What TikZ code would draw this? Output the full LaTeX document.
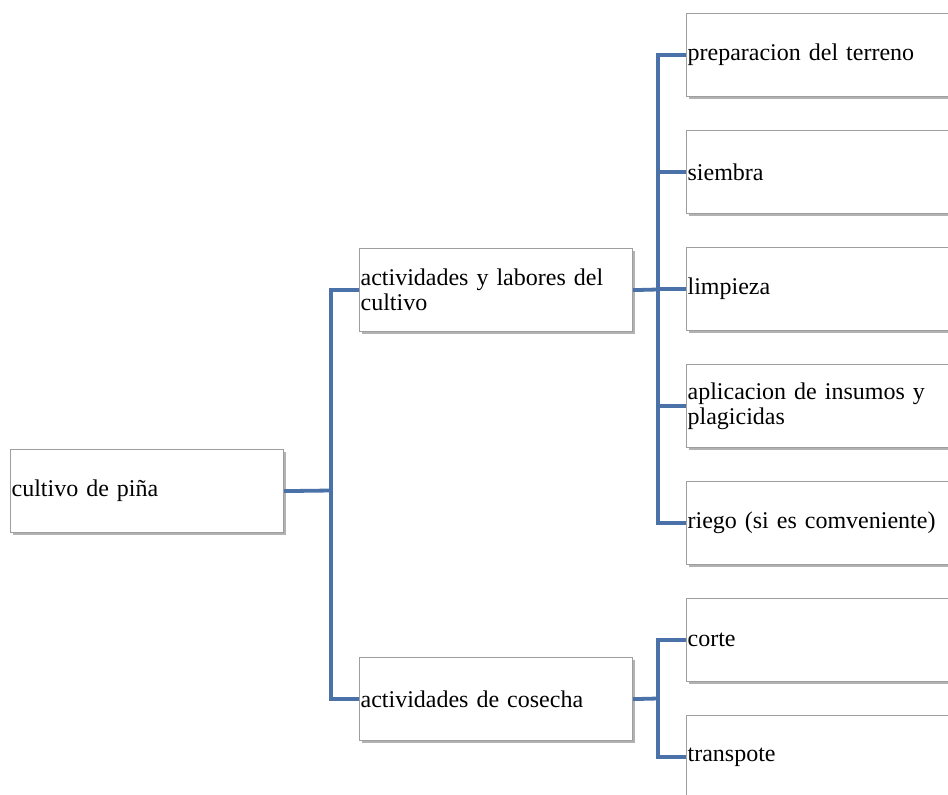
\documentclass[tikz,border=0pt]{standalone}
\usepackage{fontspec}
\setmainfont{Liberation Serif}
\usetikzlibrary{shadows}
\definecolor{linkblue}{HTML}{4A72A9}
\definecolor{boxgray}{HTML}{9E9E9E}
\tikzset{
  box/.style={draw=boxgray, line width=1.2pt, fill=white,
    drop shadow={shadow xshift=2pt, shadow yshift=-2.5pt, opacity=0.3, fill=black},
    anchor=north west, minimum height=83pt, inner xsep=1pt, inner ysep=0pt,
    align=left, font=\fontsize{24}{25}\selectfont},
  midbox/.style={box, text width=271pt},
  leafbox/.style={box, text width=288pt},
  conn/.style={draw=linkblue, line width=3.8pt, line join=miter}
}
\begin{document}
\begin{tikzpicture}[x=1pt,y=-1pt]
\useasboundingbox (0,0) rectangle (948,795);
\clip (0,0) rectangle (948,795);
\node[midbox] (root) at (10,449) {cultivo de piña};
\node[midbox] (a) at (359,248) {actividades y labores del\\cultivo};
\node[midbox] (b) at (359,657) {actividades de cosecha};
\node[leafbox] (p1) at (686,13) {preparacion del terreno};
\node[leafbox] (p2) at (686,130) {siembra};
\node[leafbox] (p3) at (686,247) {limpieza};
\node[leafbox] (p4) at (686,364) {aplicacion de insumos y\\plagicidas};
\node[leafbox] (p5) at (686,481) {riego (si es comveniente)};
\node[leafbox] (c1) at (686,598) {corte};
\node[leafbox] (c2) at (686,715) {transpote};
\coordinate (j1) at (331,490.5);
\coordinate (j2) at (658,289.5);
\coordinate (j3) at (658,698.5);
\draw[conn] (root.east) -- (j1);
\draw[conn] (j1) |- (a.west);
\draw[conn] (j1) |- (b.west);
\draw[conn] (a.east) -- (j2);
\draw[conn] (j2) |- (p1.west);
\draw[conn] (j2) |- (p2.west);
\draw[conn] (j2) |- (p3.west);
\draw[conn] (j2) |- (p4.west);
\draw[conn] (j2) |- (p5.west);
\draw[conn] (b.east) -- (j3);
\draw[conn] (j3) |- (c1.west);
\draw[conn] (j3) |- (c2.west);
\end{tikzpicture}
\end{document}
